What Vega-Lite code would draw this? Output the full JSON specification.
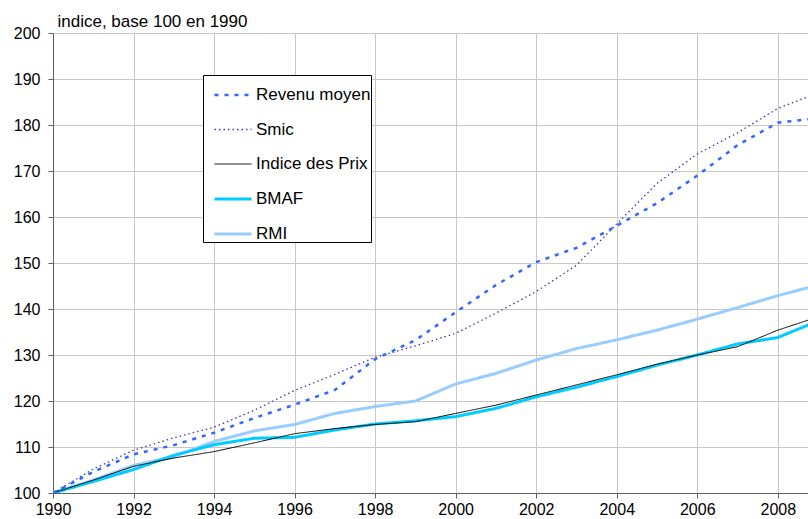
{
  "$schema": "https://vega.github.io/schema/vega-lite/v6.json",
  "width": 755,
  "height": 460,
  "autosize": {"type": "none"},
  "padding": {"left": 53, "top": 33, "right": 0, "bottom": 26},
  "background": "#ffffff",
  "config": {
    "font": "Liberation Sans",
    "view": {"stroke": null},
    "axis": {
      "labelFont": "Liberation Sans",
      "labelFontSize": 16,
      "labelColor": "#000000",
      "domainColor": "#606060",
      "tickColor": "#606060",
      "gridColor": "#c8c8c8",
      "gridWidth": 1,
      "tickSize": 5
    },
    "legend": {
      "orient": "none",
      "legendX": 150,
      "legendY": 42,
      "strokeColor": "#000000",
      "fillColor": "#ffffff",
      "padding": 0,
      "symbolOffset": 10,
      "rowPadding": 7,
      "symbolType": "stroke",
      "symbolSize": 1369,
      "labelFont": "Liberation Sans",
      "labelFontSize": 17,
      "labelColor": "#000000",
      "labelOffset": 3,
      "labelLimit": 300
    }
  },
  "data": {
    "values": [
      {"series": "RMI", "year": 1990, "value": 100},
      {"series": "RMI", "year": 1991, "value": 102.8},
      {"series": "RMI", "year": 1992, "value": 106.0},
      {"series": "RMI", "year": 1993, "value": 107.9},
      {"series": "RMI", "year": 1994, "value": 111.2},
      {"series": "RMI", "year": 1995, "value": 113.5},
      {"series": "RMI", "year": 1996, "value": 114.9},
      {"series": "RMI", "year": 1997, "value": 117.3},
      {"series": "RMI", "year": 1998, "value": 118.8},
      {"series": "RMI", "year": 1999, "value": 120.0},
      {"series": "RMI", "year": 2000, "value": 123.7},
      {"series": "RMI", "year": 2001, "value": 126.0},
      {"series": "RMI", "year": 2002, "value": 128.9},
      {"series": "RMI", "year": 2003, "value": 131.4},
      {"series": "RMI", "year": 2004, "value": 133.3},
      {"series": "RMI", "year": 2005, "value": 135.4},
      {"series": "RMI", "year": 2006, "value": 137.8},
      {"series": "RMI", "year": 2007, "value": 140.3},
      {"series": "RMI", "year": 2008, "value": 142.9},
      {"series": "RMI", "year": 2009, "value": 145.2},
      {"series": "BMAF", "year": 1990, "value": 100},
      {"series": "BMAF", "year": 1991, "value": 102.5},
      {"series": "BMAF", "year": 1992, "value": 105.1},
      {"series": "BMAF", "year": 1993, "value": 108.2},
      {"series": "BMAF", "year": 1994, "value": 110.5},
      {"series": "BMAF", "year": 1995, "value": 111.9},
      {"series": "BMAF", "year": 1996, "value": 112.1},
      {"series": "BMAF", "year": 1997, "value": 113.7},
      {"series": "BMAF", "year": 1998, "value": 115.0},
      {"series": "BMAF", "year": 1999, "value": 115.7},
      {"series": "BMAF", "year": 2000, "value": 116.6},
      {"series": "BMAF", "year": 2001, "value": 118.4},
      {"series": "BMAF", "year": 2002, "value": 120.9},
      {"series": "BMAF", "year": 2003, "value": 123.0},
      {"series": "BMAF", "year": 2004, "value": 125.3},
      {"series": "BMAF", "year": 2005, "value": 127.8},
      {"series": "BMAF", "year": 2006, "value": 130.0},
      {"series": "BMAF", "year": 2007, "value": 132.4},
      {"series": "BMAF", "year": 2008, "value": 133.8},
      {"series": "BMAF", "year": 2009, "value": 137.4},
      {"series": "Indice des Prix", "year": 1990, "value": 100},
      {"series": "Indice des Prix", "year": 1991, "value": 102.8},
      {"series": "Indice des Prix", "year": 1992, "value": 105.8},
      {"series": "Indice des Prix", "year": 1993, "value": 107.6},
      {"series": "Indice des Prix", "year": 1994, "value": 109.0},
      {"series": "Indice des Prix", "year": 1995, "value": 110.9},
      {"series": "Indice des Prix", "year": 1996, "value": 112.9},
      {"series": "Indice des Prix", "year": 1997, "value": 114.0},
      {"series": "Indice des Prix", "year": 1998, "value": 114.9},
      {"series": "Indice des Prix", "year": 1999, "value": 115.5},
      {"series": "Indice des Prix", "year": 2000, "value": 117.3},
      {"series": "Indice des Prix", "year": 2001, "value": 119.1},
      {"series": "Indice des Prix", "year": 2002, "value": 121.3},
      {"series": "Indice des Prix", "year": 2003, "value": 123.5},
      {"series": "Indice des Prix", "year": 2004, "value": 125.7},
      {"series": "Indice des Prix", "year": 2005, "value": 128.0},
      {"series": "Indice des Prix", "year": 2006, "value": 130.0},
      {"series": "Indice des Prix", "year": 2007, "value": 131.8},
      {"series": "Indice des Prix", "year": 2008, "value": 135.4},
      {"series": "Indice des Prix", "year": 2009, "value": 138.3},
      {"series": "Smic", "year": 1990, "value": 100},
      {"series": "Smic", "year": 1991, "value": 105.2},
      {"series": "Smic", "year": 1992, "value": 109.3},
      {"series": "Smic", "year": 1993, "value": 112.0},
      {"series": "Smic", "year": 1994, "value": 114.3},
      {"series": "Smic", "year": 1995, "value": 118.0},
      {"series": "Smic", "year": 1996, "value": 122.3},
      {"series": "Smic", "year": 1997, "value": 125.8},
      {"series": "Smic", "year": 1998, "value": 129.5},
      {"series": "Smic", "year": 1999, "value": 132.0},
      {"series": "Smic", "year": 2000, "value": 134.7},
      {"series": "Smic", "year": 2001, "value": 139.1},
      {"series": "Smic", "year": 2002, "value": 143.8},
      {"series": "Smic", "year": 2003, "value": 149.5},
      {"series": "Smic", "year": 2004, "value": 158.5},
      {"series": "Smic", "year": 2005, "value": 167.3},
      {"series": "Smic", "year": 2006, "value": 173.7},
      {"series": "Smic", "year": 2007, "value": 178.3},
      {"series": "Smic", "year": 2008, "value": 183.6},
      {"series": "Smic", "year": 2009, "value": 187.0},
      {"series": "Revenu moyen", "year": 1990, "value": 100},
      {"series": "Revenu moyen", "year": 1991, "value": 104.6},
      {"series": "Revenu moyen", "year": 1992, "value": 108.4},
      {"series": "Revenu moyen", "year": 1993, "value": 110.4},
      {"series": "Revenu moyen", "year": 1994, "value": 113.1},
      {"series": "Revenu moyen", "year": 1995, "value": 116.3},
      {"series": "Revenu moyen", "year": 1996, "value": 119.2},
      {"series": "Revenu moyen", "year": 1997, "value": 122.4},
      {"series": "Revenu moyen", "year": 1998, "value": 129.1},
      {"series": "Revenu moyen", "year": 1999, "value": 133.2},
      {"series": "Revenu moyen", "year": 2000, "value": 139.3},
      {"series": "Revenu moyen", "year": 2001, "value": 145.2},
      {"series": "Revenu moyen", "year": 2002, "value": 150.2},
      {"series": "Revenu moyen", "year": 2003, "value": 153.3},
      {"series": "Revenu moyen", "year": 2004, "value": 158.1},
      {"series": "Revenu moyen", "year": 2005, "value": 163.0},
      {"series": "Revenu moyen", "year": 2006, "value": 169.0},
      {"series": "Revenu moyen", "year": 2007, "value": 175.6},
      {"series": "Revenu moyen", "year": 2008, "value": 180.5},
      {"series": "Revenu moyen", "year": 2009, "value": 181.5}
    ]
  },
  "mark": {"type": "line", "clip": true, "strokeCap": "butt"},
  "encoding": {
    "x": {
      "field": "year",
      "type": "quantitative",
      "scale": {"domain": [1990, 2008.75], "nice": false, "zero": false},
      "axis": {
        "values": [1990, 1992, 1994, 1996, 1998, 2000, 2002, 2004, 2006, 2008],
        "format": "d",
        "title": null,
        "labelFlush": false,
        "labelPadding": 3
      }
    },
    "y": {
      "field": "value",
      "type": "quantitative",
      "scale": {"domain": [100, 200], "nice": false, "zero": false},
      "axis": {
        "values": [100, 110, 120, 130, 140, 150, 160, 170, 180, 190, 200],
        "title": "indice, base 100 en 1990",
        "titleAngle": 0,
        "titleAlign": "left",
        "titleBaseline": "alphabetic",
        "titleX": 4,
        "titleY": -6.5,
        "titleFont": "Liberation Sans",
        "titleFontSize": 17,
        "titleFontWeight": "normal",
        "titleColor": "#000000",
        "labelFlush": false,
        "labelPadding": 8
      }
    },
    "color": {
      "field": "series",
      "type": "nominal",
      "scale": {
        "domain": ["Revenu moyen", "Smic", "Indice des Prix", "BMAF", "RMI"],
        "range": ["#3366ff", "#3a3aae", "#000000", "#00ccff", "#99ccff"]
      },
      "legend": {"title": null}
    },
    "strokeDash": {
      "field": "series",
      "type": "nominal",
      "scale": {
        "domain": ["Revenu moyen", "Smic", "Indice des Prix", "BMAF", "RMI"],
        "range": [[4, 6], [1.5, 3], [1, 0], [1, 0], [1, 0]]
      },
      "legend": {"title": null}
    },
    "strokeWidth": {
      "field": "series",
      "type": "nominal",
      "scale": {
        "type": "ordinal",
        "domain": ["Revenu moyen", "Smic", "Indice des Prix", "BMAF", "RMI"],
        "range": [2.5, 1.3, 1, 3, 3]
      },
      "legend": {"title": null}
    }
  }
}
